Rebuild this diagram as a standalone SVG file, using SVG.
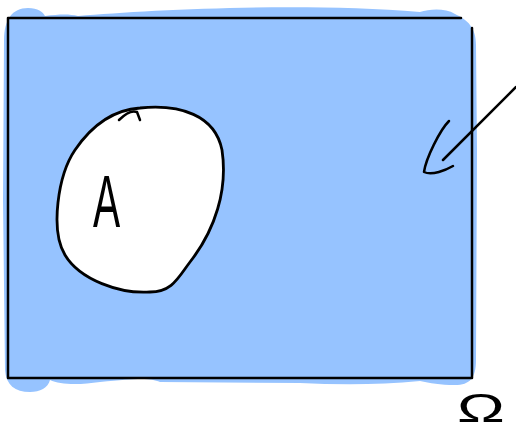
<svg xmlns="http://www.w3.org/2000/svg" width="516" height="429" viewBox="0 0 516 429">
<style>
.ink{fill:none;stroke:#000;stroke-width:2.5;stroke-linecap:round;stroke-linejoin:round}
.lbl{font-family:"Liberation Sans",Arial,sans-serif;fill:#000}
</style>
<rect width="516" height="429" fill="#fff"/>
<g id="omega-set">
<path d="M4,40 C4,20 12,8 28,8 C38,8 43,12 45,16 C60,14 70,14 78,16 C150,10 300,2 420,12 C430,9 445,8 455,14 C468,20 476,28 476,45 L477,150 L476,360 C476,378 470,385 455,385 C440,385 430,383 420,381 C380,385 340,385 300,383 L160,382 C150,378 140,378 100,382 C80,385 60,385 50,380 C48,388 40,392 30,392 C15,392 6,385 5,370 L3,200 Z" fill="#96c3ff"/>
<path class="ink" stroke-width="2" d="M8,18 L461,18 M472,28 L472,378 L8,378 L8,18"/>
<text class="lbl" x="0" y="0" font-size="40" transform="translate(457,422) scale(1.6,1)">Ω</text>
</g>
<g id="set-a">
<path d="M140,108 C180,104 215,115 222,150 C228,190 215,230 190,262 C178,278 172,292 150,292 C120,294 80,280 65,255 C50,230 58,175 75,150 C90,128 110,110 140,108 Z" fill="#fff" stroke="#000" stroke-width="2.8"/>
<path class="ink" d="M119,120 C125,114 132,110 137,112 L140,120"/>
<text class="lbl" x="0" y="0" font-size="74" transform="translate(93,227) scale(0.55,1)">A</text>
</g>
<g id="connectors">
<path class="ink" d="M516,87 L443,160"/>
<path class="ink" stroke-width="3" d="M449,121 C440,130 426,158 424,172 C432,176 446,170 453,166"/>
</g>
</svg>
